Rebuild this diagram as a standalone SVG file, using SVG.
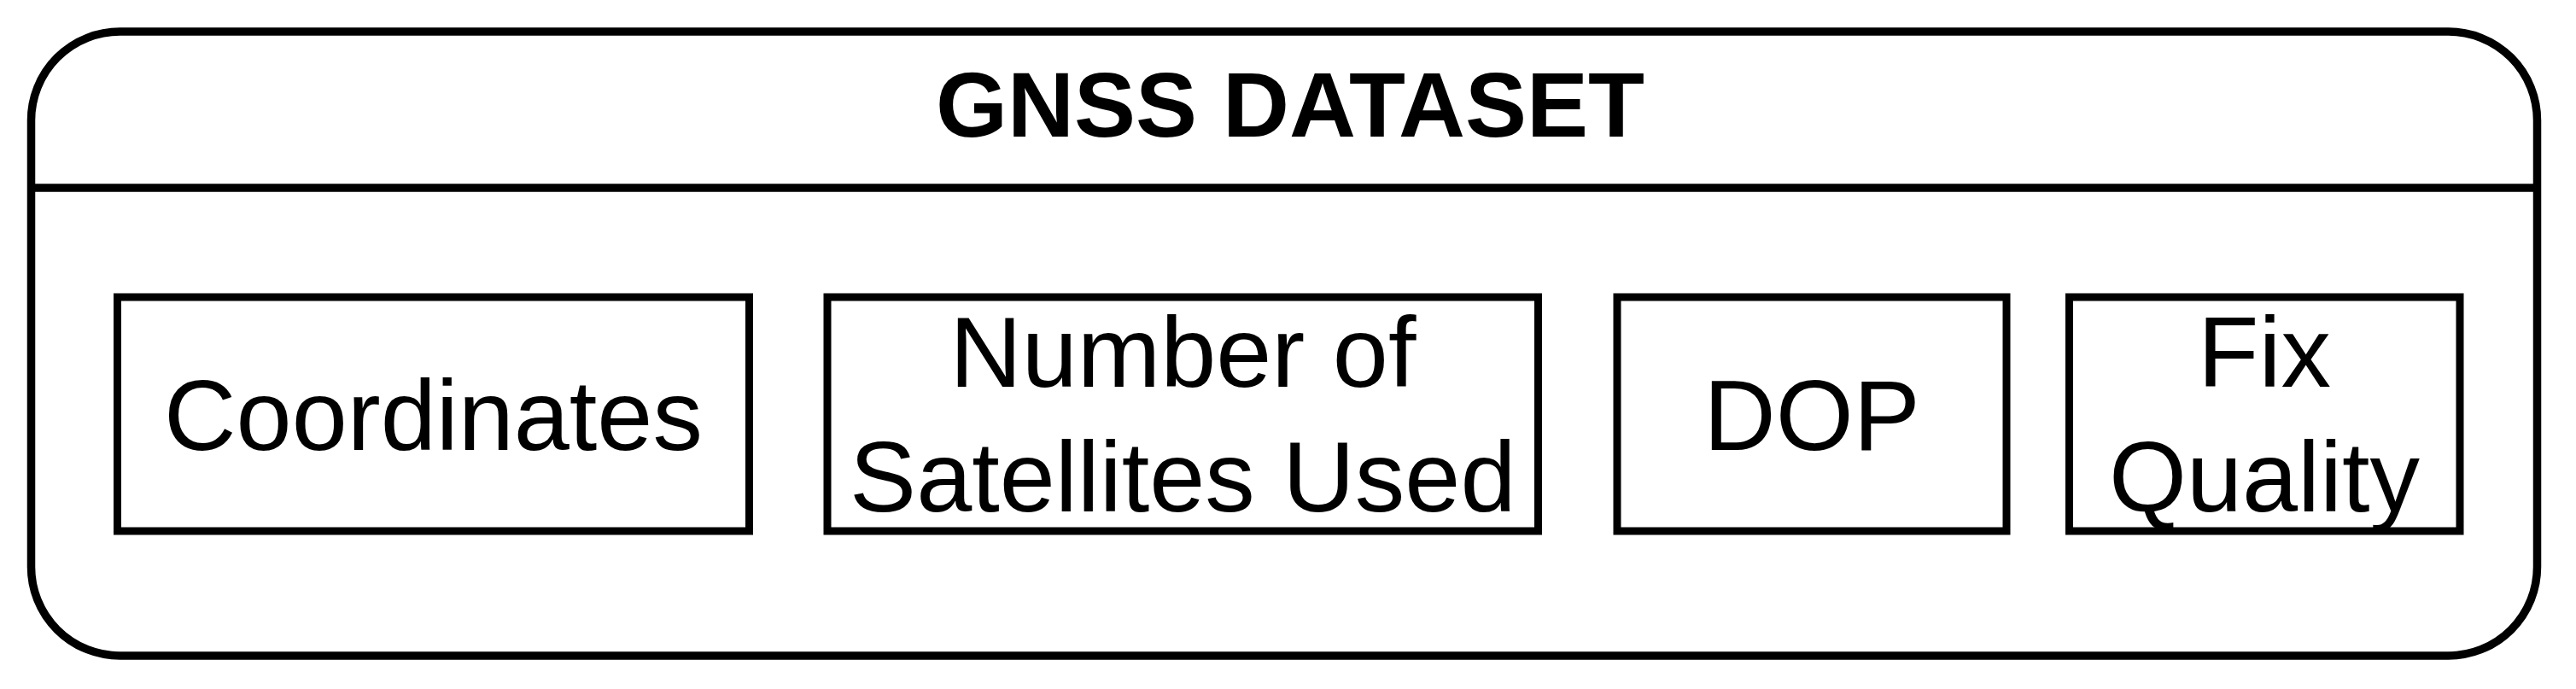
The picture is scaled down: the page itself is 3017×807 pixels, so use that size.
<svg xmlns="http://www.w3.org/2000/svg" width="3017" height="807" viewBox="0 0 3017 807">
<style>
.box{fill:#fff;stroke:#000;stroke-width:9}
.lbl{font-family:"Liberation Sans",Arial,sans-serif;font-size:117px;fill:#000;text-anchor:middle}
.hdr{font-family:"Liberation Sans",Arial,sans-serif;font-size:108px;font-weight:bold;fill:#000;text-anchor:middle}
</style>
<rect width="3017" height="807" fill="#fff"/>
<g id="container">
<rect x="36.5" y="37" width="2935" height="731" rx="104" ry="104" fill="#fff" stroke="#000" stroke-width="9.5"/>
<line x1="36.5" y1="220" x2="2971.5" y2="220" stroke="#000" stroke-width="9.5"/>
<text class="hdr" x="1511" y="160">GNSS DATASET</text>
</g>
<g id="connectors"></g>
<g id="coordinates">
<rect class="box" x="137.5" y="348" width="740" height="274"/>
<text class="lbl" x="507.5" y="527">Coordinates</text>
</g>
<g id="satellites">
<rect class="box" x="969" y="348" width="832.5" height="274"/>
<text class="lbl" x="1385.3" y="453">Number of</text>
<text class="lbl" x="1385.3" y="599">Satellites Used</text>
</g>
<g id="dop">
<rect class="box" x="1894" y="348" width="456" height="274"/>
<text class="lbl" x="2122" y="527">DOP</text>
</g>
<g id="fixquality">
<rect class="box" x="2423.5" y="348" width="457.5" height="274"/>
<text class="lbl" x="2652" y="453">Fix</text>
<text class="lbl" x="2652" y="599">Quality</text>
</g>
</svg>
